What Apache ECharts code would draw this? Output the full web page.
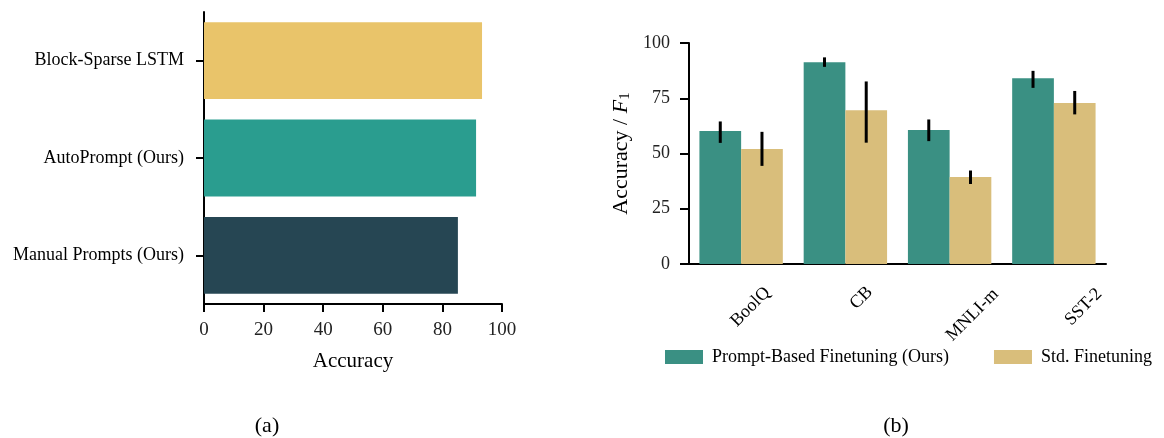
<!DOCTYPE html>
<html>
<head>
<meta charset="utf-8">
<script src="https://cdn.jsdelivr.net/npm/echarts@6/dist/echarts.min.js"></script>
<style>
  html, body { margin: 0; padding: 0; background: #fff; }
  #chart { width: 1164px; height: 438px; }
</style>
</head>
<body>
<div id="chart"></div>
<script>
// ---- Data: panel (a) ----
const methodsA = ["Manual Prompts (Ours)", "AutoPrompt (Ours)", "Block-Sparse LSTM"];
const accuracyA = [85.2, 91.3, 93.3];
const colorsA = ["#264653", "#2A9D8F", "#E9C46A"];
const ticksA = [0, 20, 40, 60, 80, 100];

// ---- Data: panel (b) ----
const tasksB = ["BoolQ", "CB", "MNLI-m", "SST-2"];
const promptBased = [60.2, 91.3, 60.6, 84.1];
const promptBasedLow = [54.8, 89.2, 55.6, 79.7];
const promptBasedHigh = [64.5, 93.5, 65.4, 87.4];
const stdFinetune = [52.0, 69.6, 39.4, 72.8];
const stdFinetuneLow = [44.4, 54.9, 36.2, 67.7];
const stdFinetuneHigh = [59.8, 82.6, 42.3, 78.3];
const seriesNamesB = ["Prompt-Based Finetuning (Ours)", "Std. Finetuning"];
const ticksB = [0, 25, 50, 75, 100];

const FONT = "Liberation Serif";
const chart = echarts.init(document.getElementById("chart"));

function errRender(sign) {
  return function (params, api) {
    const idx = api.value(0);
    const band = api.size([1, 0])[0];
    const x = api.coord([idx, 0])[0] + sign * band * 0.2;
    const y1 = api.coord([idx, api.value(1)])[1];
    const y2 = api.coord([idx, api.value(2)])[1];
    return {
      type: "line",
      shape: { x1: x, y1: y1, x2: x, y2: y2 },
      style: { stroke: "#000", lineWidth: 3 }
    };
  };
}

// per-label nudges of the rotated task labels (top-aligned look)
const labelPad = [[0, 0, 0, 0], [0, 0, 13, 13], [11, 11, 0, 0], [0, 0, 0, 0]];
const labelRich = {};
tasksB.forEach((t, i) => {
  labelRich["t" + i] = { fontFamily: FONT, fontSize: 18, color: "#000", padding: labelPad[i] };
});

const axisLineStyle = { color: "#000", width: 2 };

const option = {
  backgroundColor: "#fff",
  animation: false,
  textStyle: { fontFamily: FONT, color: "#000" },
  title: [
    { text: "(a)", left: 262, top: 410, textAlign: "center",
      textStyle: { fontFamily: FONT, fontSize: 22, fontWeight: "normal", color: "#000" } },
    { text: "(b)", left: 891, top: 410, textAlign: "center",
      textStyle: { fontFamily: FONT, fontSize: 22, fontWeight: "normal", color: "#000" } }
  ],
  legend: {
    left: 660, top: 343,
    itemWidth: 38, itemHeight: 14, itemGap: 45,
    icon: "rect",
    data: seriesNamesB,
    textStyle: { fontFamily: FONT, fontSize: 18, color: "#000", padding: [0, 0, 0, 4] }
  },
  grid: [
    { left: 204, top: 12, width: 298, height: 292 },
    { left: 689, top: 43, width: 417, height: 221 },
    { left: 695, top: 43, width: 444, height: 221 }
  ],
  xAxis: [
    {
      gridIndex: 0, type: "value", min: ticksA[0], max: ticksA[ticksA.length - 1], interval: 20,
      splitLine: { show: false },
      axisLine: { show: true, lineStyle: axisLineStyle },
      axisTick: { show: true, length: 8, lineStyle: axisLineStyle },
      axisLabel: { fontFamily: FONT, fontSize: 19, color: "#222", margin: 17 },
      name: "Accuracy", nameLocation: "middle", nameGap: 47,
      nameTextStyle: { fontFamily: FONT, fontSize: 21, color: "#000" }
    },
    {
      gridIndex: 1, type: "category", data: tasksB,
      axisLine: { show: true, lineStyle: axisLineStyle },
      axisTick: { show: false },
      axisLabel: { show: false }
    },
    {
      gridIndex: 2, type: "category", data: tasksB,
      axisLine: { show: false },
      axisTick: { show: false },
      axisLabel: {
        show: true, interval: 0, rotate: 45, align: "center", verticalAlign: "middle",
        margin: 43, fontFamily: FONT, fontSize: 18, color: "#000",
        formatter: function (v, i) { return "{t" + i + "|" + v + "}"; },
        rich: labelRich
      }
    }
  ],
  yAxis: [
    {
      gridIndex: 0, type: "category", data: methodsA,
      axisLine: { show: true, lineStyle: axisLineStyle },
      axisTick: { show: true, length: 8, alignWithLabel: true, lineStyle: axisLineStyle },
      axisLabel: { fontFamily: FONT, fontSize: 18, color: "#000", margin: 20 }
    },
    {
      gridIndex: 1, type: "value", min: ticksB[0], max: ticksB[ticksB.length - 1], interval: 25,
      splitLine: { show: false },
      axisLine: { show: true, lineStyle: axisLineStyle },
      axisTick: { show: true, length: 9, lineStyle: axisLineStyle },
      axisLabel: { fontFamily: FONT, fontSize: 18, color: "#222", margin: 19 },
      name: "{a|Accuracy / }{i|F}{s|1}", nameLocation: "middle", nameGap: 56,
      nameTextStyle: {
        fontFamily: FONT, fontSize: 22, color: "#000",
        rich: {
          a: { fontFamily: FONT, fontSize: 22, color: "#000" },
          i: { fontFamily: FONT, fontSize: 22, fontStyle: "italic", color: "#000" },
          s: { fontFamily: FONT, fontSize: 15, color: "#000", padding: [8, 0, 0, 0] }
        }
      }
    },
    {
      gridIndex: 2, type: "value", show: false, min: 0, max: 100
    }
  ],
  series: [
    {
      type: "bar", xAxisIndex: 0, yAxisIndex: 0, barWidth: "79%",
      data: accuracyA.map((v, i) => ({ value: v, itemStyle: { color: colorsA[i] } }))
    },
    {
      name: seriesNamesB[0], type: "bar", xAxisIndex: 1, yAxisIndex: 1,
      barWidth: "40%", barGap: "0%", itemStyle: { color: "#3A9083" },
      data: promptBased
    },
    {
      name: seriesNamesB[1], type: "bar", xAxisIndex: 1, yAxisIndex: 1,
      barWidth: "40%", barGap: "0%", itemStyle: { color: "#D9BE7B" },
      data: stdFinetune
    },
    {
      type: "custom", xAxisIndex: 1, yAxisIndex: 1, z: 5,
      renderItem: errRender(-1),
      encode: { x: 0, y: [1, 2] },
      data: tasksB.map((t, i) => [i, promptBasedLow[i], promptBasedHigh[i]])
    },
    {
      type: "custom", xAxisIndex: 1, yAxisIndex: 1, z: 5,
      renderItem: errRender(1),
      encode: { x: 0, y: [1, 2] },
      data: tasksB.map((t, i) => [i, stdFinetuneLow[i], stdFinetuneHigh[i]])
    }
  ]
};
chart.setOption(option);
</script>
</body>
</html>
